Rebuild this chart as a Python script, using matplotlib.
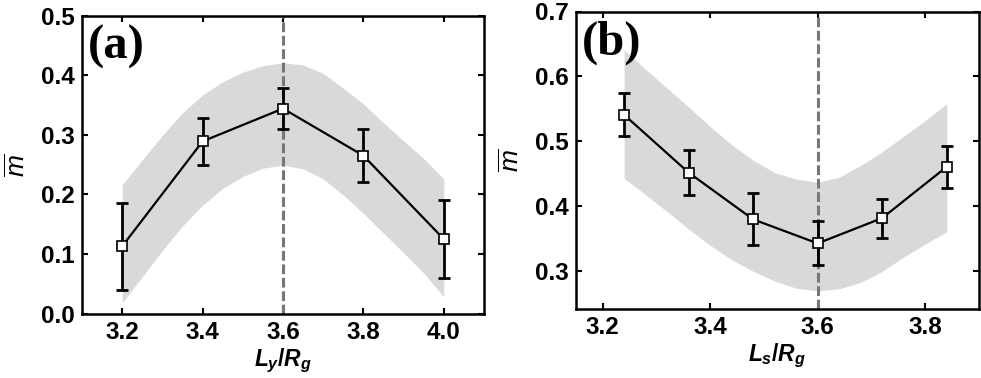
import matplotlib
matplotlib.use("Agg")
import matplotlib.pyplot as plt
import numpy as np

plt.rcParams['font.family'] = ['Liberation Sans', 'DejaVu Sans']
plt.rcParams['mathtext.fontset'] = 'custom'
plt.rcParams['mathtext.it'] = 'Liberation Sans:italic:bold'
plt.rcParams['mathtext.rm'] = 'Liberation Sans:bold'
plt.rcParams['mathtext.bf'] = 'Liberation Sans:bold'
plt.rcParams['mathtext.sf'] = 'Liberation Sans:italic'

# ---- Panel (a) data ----
a_x = [3.2, 3.4, 3.6, 3.8, 4.0]
a_y = [0.113, 0.289, 0.344, 0.265, 0.125]
a_err = [0.073, 0.040, 0.034, 0.045, 0.065]
a_band_x = [3.2, 3.25, 3.3, 3.35, 3.4, 3.45, 3.5, 3.55, 3.6,
            3.65, 3.7, 3.75, 3.8, 3.85, 3.9, 3.95, 4.0]
a_band_hi = [0.216, 0.258, 0.299, 0.337, 0.367, 0.389, 0.405, 0.416, 0.421,
             0.417, 0.403, 0.378, 0.352, 0.320, 0.290, 0.260, 0.226]
a_band_lo = [0.018, 0.062, 0.106, 0.147, 0.182, 0.210, 0.230, 0.244, 0.249,
             0.243, 0.226, 0.199, 0.168, 0.135, 0.102, 0.068, 0.028]
a_xticks = [3.2, 3.4, 3.6, 3.8, 4.0]
a_yticks = [0.0, 0.1, 0.2, 0.3, 0.4, 0.5]

# ---- Panel (b) data ----
b_x = [3.24, 3.36, 3.48, 3.60, 3.72, 3.84]
b_y = [0.541, 0.452, 0.380, 0.343, 0.382, 0.461]
b_err = [0.033, 0.035, 0.040, 0.034, 0.030, 0.032]
b_band_x = [3.24, 3.28, 3.32, 3.36, 3.40, 3.44, 3.48, 3.52, 3.56,
            3.60, 3.64, 3.68, 3.72, 3.76, 3.80, 3.84]
b_band_hi = [0.641, 0.611, 0.582, 0.553, 0.523, 0.495, 0.471, 0.452, 0.442,
             0.437, 0.445, 0.463, 0.484, 0.508, 0.532, 0.558]
b_band_lo = [0.443, 0.418, 0.392, 0.365, 0.340, 0.318, 0.300, 0.285, 0.274,
             0.270, 0.273, 0.283, 0.300, 0.322, 0.342, 0.361]
b_xticks = [3.2, 3.4, 3.6, 3.8]
b_yticks = [0.3, 0.4, 0.5, 0.6, 0.7]

W, H = 981, 378
fig = plt.figure(figsize=(W / 100, H / 100), dpi=100)

ax_a = fig.add_axes([82 / W, 1 - 313.6 / H, (484 - 82) / W, (313.6 - 15.6) / H])
ax_b = fig.add_axes([575.7 / W, 1 - 309 / H, (979 - 575.7) / W, (309 - 11.5) / H])

def draw(ax, x, y, err, bx, bhi, blo, xlim, ylim, xticks, yticks, xlabel, tag):
    ax.fill_between(bx, blo, bhi, color='#d9d9d9', linewidth=0, zorder=1)
    ax.axvline(3.6, color='#777777', linestyle=(0, (3.2, 1.2)), linewidth=2.2, zorder=2)
    ax.errorbar(x, y, yerr=err, fmt='none', ecolor='black', elinewidth=2.0,
                capsize=4.5, capthick=2.0, zorder=3)
    ax.plot(x, y, color='black', linewidth=1.6, marker='s', markersize=7.5,
            markerfacecolor='white', markeredgecolor='black', markeredgewidth=1.2,
            zorder=4)
    ax.set_xlim(*xlim)
    ax.set_ylim(*ylim)
    ax.set_xticks(xticks)
    ax.set_yticks(yticks)
    ax.set_xticklabels([f'{t:.1f}' for t in xticks])
    ax.set_yticklabels([f'{t:.1f}' for t in yticks])
    ax.tick_params(direction='in', top=True, right=True, length=4, width=1.5,
                   labelsize=17.5, pad=5)
    for lab in ax.get_xticklabels() + ax.get_yticklabels():
        lab.set_fontweight('bold')
    for s in ax.spines.values():
        s.set_linewidth(1.8)
    ax.set_xlabel(xlabel, fontsize=16.5, labelpad=2)
    ax.set_ylabel(r'$\overline{\mathsf{m}}$', fontsize=19, labelpad=8)
    ax.text(0.015, 0.97, tag, transform=ax.transAxes, ha='left', va='top',
            fontsize=35, fontweight='bold', family=['Liberation Serif'], zorder=5)

draw(ax_a, a_x, a_y, a_err, a_band_x, a_band_hi, a_band_lo, (3.1, 4.1), (0.0, 0.5),
     a_xticks, a_yticks, r'$L_y/R_g$', '(a)')
draw(ax_b, b_x, b_y, b_err, b_band_x, b_band_hi, b_band_lo, (3.15, 3.9), (0.242, 0.7),
     b_xticks, b_yticks, r'$L_s/R_g$', '(b)')

fig.savefig('out.png', dpi=100)
